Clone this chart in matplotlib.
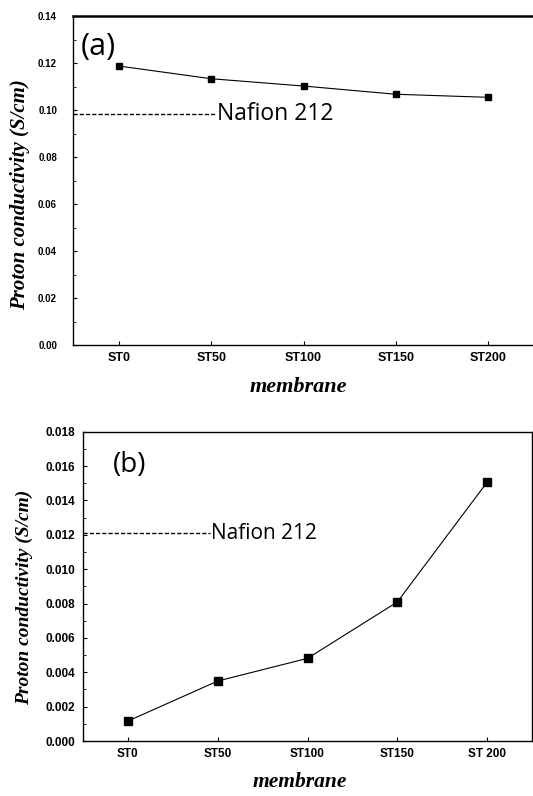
import matplotlib
matplotlib.use("Agg")
import matplotlib.pyplot as plt
from matplotlib.ticker import MultipleLocator, AutoMinorLocator

categories = ["ST0", "ST50", "ST100", "ST150", "ST200"]
cond_a = [0.1187, 0.1133, 0.1102, 0.1067, 0.1054]
nafion_a = 0.0982
cond_b = [0.00116, 0.00349, 0.00481, 0.00809, 0.01506]
nafion_b = 0.0121
xtick_labels_b = ["ST0", "ST50", "ST100", "ST150", "ST 200"]

W, H = 533, 796
fig = plt.figure(figsize=(W / 100, H / 100), dpi=100)

labfont = dict(family="Liberation Serif", weight="bold", style="italic")


def setup(ax, ymax, ystep, fmt, xlabels, ysize, xsize, ypad, ylab_size,
          ylab_xy, xlab_xy, xlab_size):
    x = list(range(1, len(categories) + 1))
    ax.set_xlim(0.5, 5.5)
    ax.set_ylim(0, ymax)
    ax.set_xticks(x)
    ax.set_xticklabels(xlabels, fontsize=xsize, family="Liberation Sans",
                       weight="bold")
    ax.yaxis.set_major_locator(MultipleLocator(ystep))
    ax.yaxis.set_minor_locator(AutoMinorLocator(2))
    ax.yaxis.set_major_formatter(plt.FormatStrFormatter(fmt))
    for lab in ax.get_yticklabels():
        lab.set_fontsize(ysize)
        lab.set_fontfamily("Liberation Sans")
        lab.set_fontweight("bold")
    ax.tick_params(direction="in", length=3, width=0.8)
    ax.tick_params(which="minor", direction="in", length=2, width=0.6)
    ax.tick_params(axis="x", pad=5)
    ax.tick_params(axis="y", pad=ypad)
    for s in ax.spines.values():
        s.set_linewidth(1.0)
    ax.set_xlabel("membrane", fontsize=xlab_size, **labfont)
    ax.xaxis.set_label_coords(*xlab_xy)
    ax.xaxis.label.set_verticalalignment("center")
    ax.set_ylabel("Proton conductivity (S/cm)", fontsize=ylab_size, **labfont)
    ax.yaxis.set_label_coords(*ylab_xy)
    ax.yaxis.label.set_verticalalignment("center")
    return x


# Panel (a)
l, r, t, b = 73, 534, 16, 345
ax1 = fig.add_axes([l / W, 1 - b / H, (r - l) / W, (b - t) / H])
x = setup(ax1, 0.14, 0.02, "%.2f", categories, 7, 9, 11.5, 15,
          ((20 - l) / (r - l), (b - 195) / (b - t)),
          ((298 - l) / (r - l), -(387 - b) / (b - t)), 16)
ax1.plot(x, cond_a, color="black", lw=0.8, marker="s", ms=5)
ax1.plot([0.5, 2.04], [nafion_a, nafion_a], color="black", lw=1.0, ls=(0, (3, 1.5)))
ax1.text(2.06, nafion_a, "Nafion 212", fontsize=16.5, va="center", ha="left",
         family="Open Sans")
ax1.text(0.77, 0.1268, "(a)", fontsize=22, va="center", ha="center", family="Open Sans")
ax1.spines["top"].set_linewidth(1.8)

# Panel (b)
l, r, t, b = 83, 532, 431.7, 741
ax2 = fig.add_axes([l / W, 1 - b / H, (r - l) / W, (b - t) / H])
x = setup(ax2, 0.018, 0.002, "%.3f", xtick_labels_b, 8.5, 8.5, 5.5, 14,
          ((24 - l) / (r - l), (b - 597) / (b - t)),
          ((300 - l) / (r - l), -(782 - b) / (b - t)), 15.5)
ax2.plot(x, cond_b, color="black", lw=0.8, marker="s", ms=5.5)
ax2.plot([0.5, 1.91], [nafion_b, nafion_b], color="black", lw=1.0, ls=(0, (3, 1.5)))
ax2.text(1.93, nafion_b, "Nafion 212", fontsize=15, va="center", ha="left",
         family="Open Sans")
ax2.text(1.02, 0.01606, "(b)", fontsize=20, va="center", ha="center", family="Open Sans")

fig.savefig("out.png", dpi=100)
